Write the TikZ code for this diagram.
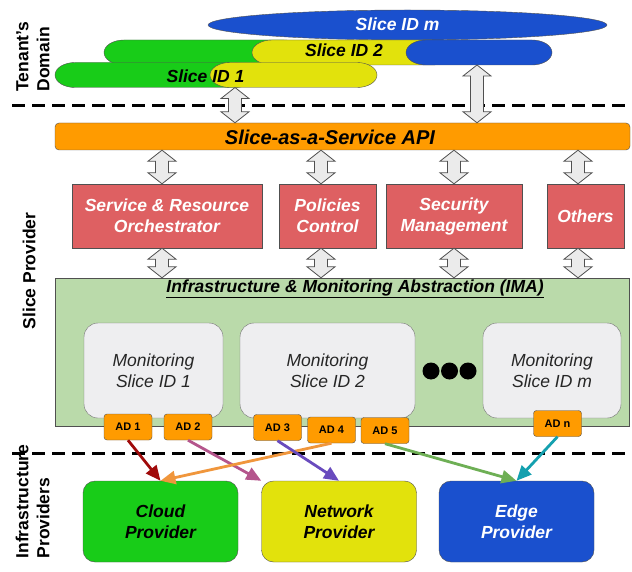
\documentclass[tikz,border=0pt]{standalone}
\usepackage{fontspec}
\setmainfont{Liberation Sans}
\usetikzlibrary{arrows.meta,calc,shapes.geometric}

\definecolor{sliceblue}{RGB}{26,80,206}
\definecolor{slicegreen}{RGB}{24,204,24}
\definecolor{sliceyellow}{RGB}{226,226,12}
\definecolor{apiorange}{RGB}{255,155,0}
\definecolor{boxred}{RGB}{222,96,98}
\definecolor{imagreen}{RGB}{186,218,170}
\definecolor{monigray}{RGB}{238,238,240}
\definecolor{edgegray}{RGB}{80,80,80}
\definecolor{adonered}{RGB}{160,10,10}
\definecolor{adtwomauve}{RGB}{180,85,140}
\definecolor{adthreepurple}{RGB}{105,75,190}
\definecolor{adfourorange}{RGB}{240,150,60}
\definecolor{adfivegreen}{RGB}{110,175,85}
\definecolor{adnteal}{RGB}{20,160,175}

% slice bar with elliptic ends: left, right, top, fill
\newcommand{\slicebar}[4]{%
  \draw[draw=edgegray, fill=#4] (#1+20,#3) -- (#2-20,#3)
    arc[start angle=90, end angle=-90, x radius=20pt, y radius=12.5pt]
    -- (#1+20,#3+25) arc[start angle=270, end angle=90, x radius=20pt, y radius=12.5pt] -- cycle;}

% vertical two-headed block arrow between two points
\newcommand{\dblarrow}[2]{%
  \path[blockarrow] let \p1=#1, \p2=#2 in
    (\x1,\y1) -- ++(14pt,-11pt) -- ++(-7.5pt,0pt) -- (\x1+6.5pt,\y2+11pt) -- ++(7.5pt,0pt)
    -- (\x1,\y2) -- ++(-14pt,11pt) -- ++(7.5pt,0pt) -- (\x1-6.5pt,\y1-11pt) -- ++(-7.5pt,0pt) -- cycle;}

\begin{document}
\begin{tikzpicture}[x=1pt, y=-1pt,
  every node/.style={font=\fontsize{17.5}{21}\selectfont\bfseries\itshape, align=center},
  funcbox/.style={draw=edgegray, fill=boxred, text=white, minimum height=64pt, inner sep=0pt},
  monibox/.style={draw=edgegray!80, fill=monigray, rounded corners=14pt, minimum height=95pt,
    inner sep=0pt, text=black!85, font=\fontsize{17.5}{21}\selectfont\itshape},
  adbox/.style={draw=edgegray, fill=apiorange, rounded corners=3pt, minimum width=48pt,
    minimum height=26pt, inner sep=0pt, font=\fontsize{11}{13}\selectfont\bfseries},
  provbox/.style={draw=edgegray, rounded corners=12pt, minimum width=155pt, minimum height=81pt, inner sep=0pt},
  blockarrow/.style={draw=edgegray, fill=black!8, line width=0.8pt},
  divider/.style={line width=3pt, dash pattern=on 13pt off 7pt},
  sidelabel/.style={rotate=90, align=left, font=\fontsize{17.5}{21}\selectfont\bfseries},
  feed/.style={line width=2.8pt, -{Triangle[length=15pt,width=13pt]}}]
\path[use as bounding box, fill=white] (0,0) rectangle (632,572);

% tenant slices
\node[ellipse, draw=edgegray, fill=sliceblue, minimum width=399pt, minimum height=30pt, inner sep=0pt] (slm) at (407.5,25) {};
\slicebar{104}{304}{40}{slicegreen}
\slicebar{252}{452}{40}{sliceyellow}
\slicebar{406}{552}{40}{sliceblue}
\slicebar{55}{255}{62.5}{slicegreen}
\slicebar{210}{377}{62.5}{sliceyellow}
\node[text=white] (slmtxt) at (397.5,24) {Slice ID m};
\node (sl2txt) at (344,50) {Slice ID 2};
\node (sl1txt) at (205.5,76) {Slice ID 1};
\coordinate (sl1) at (235,87.5);
\coordinate (sl2) at (477,65);

\draw[divider] (12,105.5) -- (632,105.5);
\draw[divider] (12,453) -- (632,453);

% slice provider
\node[draw=edgegray, fill=apiorange, rounded corners=4pt, minimum width=575pt, minimum height=27pt, inner sep=0pt] (api) at (342.5,136.5) {};
\node[font=\fontsize{20}{24}\selectfont\bfseries\itshape] (apitxt) at (330,137) {Slice-as-a-Service API};
\dblarrow{(sl1)}{(api.north -| sl1)}
\dblarrow{(sl2)}{(api.north -| sl2)}

\node[funcbox, minimum width=190pt] (orch) at (167,216) {Service \& Resource\\Orchestrator};
\node[funcbox, minimum width=97pt] (pol) at (327.5,216) {Policies\\Control};
\node[funcbox, minimum width=136pt] (sec) at (454,216) {Security\\Management};
\node[funcbox, minimum width=77pt] (oth) at (585.5,216) {Others};

\node[draw=edgegray, fill=imagreen, minimum width=574pt, minimum height=148pt, inner sep=0pt] (ima) at (342,352) {};
\node (imatxt) at (355,289) {\underline{Infrastructure \& Monitoring Abstraction (IMA)}};

\foreach \bx/\fn in {162/orch,321/pol,454/sec,578/oth} {
  \dblarrow{(api.south -| \bx,0)}{(\fn.north -| \bx,0)}
  \dblarrow{(\fn.south -| \bx,0)}{(ima.north -| \bx,0)}
}

\node[monibox, minimum width=139pt] (mon1) at (153.5,370.5) {Monitoring\\Slice ID 1};
\node[monibox, minimum width=175pt] (mon2) at (327.5,370.5) {Monitoring\\Slice ID 2};
\node[monibox, minimum width=138pt] (monm) at (552,370.5) {Monitoring\\Slice ID m};
\foreach \dx in {431,449.5,468}
  \fill (\dx,371) circle[radius=8.5pt];

\node[adbox] (ad1) at (128,427) {AD 1};
\node[adbox] (ad2) at (188,427) {AD 2};
\node[adbox] (ad3) at (277.5,427.5) {AD 3};
\node[adbox] (ad4) at (331.5,430) {AD 4};
\node[adbox] (ad5) at (385,430.5) {AD 5};
\node[adbox] (adn) at (557.5,423.5) {AD n};

% infrastructure providers
\node[provbox, fill=slicegreen] (cloudprov) at (160.5,521.5) {Cloud\\Provider};
\node[provbox, fill=sliceyellow] (netprov) at (339,521.5) {Network\\Provider};
\node[provbox, fill=sliceblue, text=white] (edgeprov) at (516.5,521.5) {Edge\\Provider};

\draw[feed, draw=adonered] (ad1.south) -- (cloudprov.north);
\draw[feed, draw=adtwomauve] (ad2.south) -- (netprov.north west);
\draw[feed, draw=adfourorange] (ad4.south) -- (cloudprov.north);
\draw[feed, draw=adthreepurple] (ad3.south) -- (netprov.north);
\draw[feed, draw=adfivegreen] (ad5.south) -- (edgeprov.north);
\draw[feed, draw=adnteal] (adn.south) -- (edgeprov.north);

\node[sidelabel, anchor=west] (tenant) at (33,95) {Tenant's\\Domain};
\node[sidelabel] (sliceprov) at (29,271) {Slice Provider};
\node[sidelabel, anchor=west] (infprov) at (32.5,562) {Infrastructure\\Providers};
\end{tikzpicture}
\end{document}
